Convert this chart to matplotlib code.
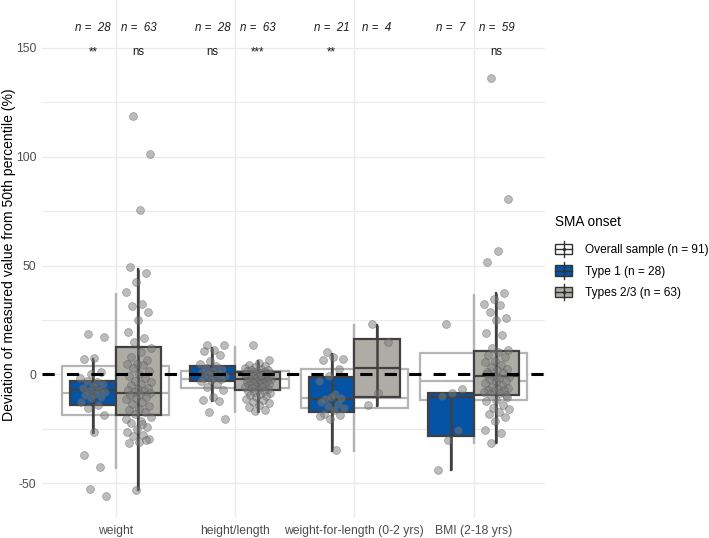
import numpy as np
import matplotlib
matplotlib.use('Agg')
import matplotlib.pyplot as plt
from matplotlib.patches import Rectangle, Patch
from matplotlib.lines import Line2D
from matplotlib.legend_handler import HandlerBase

plt.rcParams['font.family'] = ['Liberation Sans', 'DejaVu Sans']
plt.rcParams['axes.unicode_minus'] = False

# categories and labels
cats = ['weight', 'height/length', 'weight-for-length (0-2 yrs)', 'BMI (2-18 yrs)']
n_t1 = [28, 28, 21, 7]
n_t23 = [63, 63, 4, 59]
sig_t1 = ['**', 'ns', '**', '']
sig_t23 = ['ns', '***', '', 'ns']

# box stats: whislo, q1, median, q3, whishi
overall_stats = [[-43.0, -18.8, -8.7, 4.0, 37.0],
                 [-17.4, -6.4, -2.3, 1.8, 12.4],
                 [-35.3, -15.6, -11.0, 2.3, 22.5],
                 [-31.6, -11.9, -2.8, 10.0, 36.7]]
t1_stats = [[-27.0, -14.2, -7.3, -2.8, 7.3],
            [-12.4, -3.2, 0.0, 3.7, 12.0],
            [-35.3, -17.4, -11.5, -1.4, 9.6],
            [-44.0, -28.4, -10.6, -8.7, -8.7]]
t23_stats = [[-53.0, -18.8, -8.7, 12.4, 48.6],
             [-17.4, -7.0, -2.3, 1.0, 6.0],
             [-14.7, -10.6, 2.8, 16.5, 22.5],
             [-31.6, -9.6, -0.9, 10.6, 37.4]]

# individual points (estimated from the figure)
weight_t1 = [18.7, 17.0, 7.7, 7.3, 1.0, 0.0, -1.5, -3.5, -3.2, -4.5, -5.5, -6.1, -7.0, -7.5,
             -8.0, -9.0, -9.5, -10.5, -11.0, -12.7, -14.0, -15.3, -18.8, -26.5, -37.2, -42.6,
             -52.5, -55.9]
weight_t23 = [118.5, 101.4, 75.7, 49.3, 46.7, 42.4, 37.8, 32.5, 31.4, 28.6, 25.1, 19.7, 16.7, 14.9,
              12.3, 10.5, 8.0, 6.5, 4.9, 4.6, 4.1, 3.0, 1.8, 0.3, -0.5, -1.5, -2.8, -3.5, -4.2,
              -5.0, -6.1, -6.5, -7.0, -7.5, -8.1, -8.5, -8.9, -9.5, -10.4, -11.0, -11.5, -12.5,
              -13.5, -14.5, -15.8, -16.5, -17.2, -18.0,
              -19.6, -21.4, -22.3, -24.2, -25.0, -26.5, -28.0, -28.3, -29.5, -31.1, -31.5, -30.0,
              -53.3, -20.5, -23.0]
height_t1 = [13.6, 13.3, 11.0, 10.7, 8.7, 6.1, 4.9, 4.0, 3.0, 2.5, 1.5, 1.0, 0.5, 0.0, -0.5,
             -1.0, -1.5, -2.0, -2.5, -3.0, -4.6, -6.0, -7.3, -10.4, -11.6, -12.0, -17.3, -20.4]
height_t23 = [13.6, 6.4, 5.2, 4.5, 3.8, 3.5, 3.0, 2.5, 2.2, 2.0, 1.8, 1.5, 1.2, 1.0, 0.8, 0.5,
              0.3, 0.0, 0.0, -0.3, -0.5, -0.8, -1.0, -1.2, -1.5, -1.8, -2.0, -2.2, -2.5, -2.8,
              -3.0, -3.2, -3.5, -3.8, -4.0, -4.2, -4.5, -4.8, -5.0, -5.3, -5.6, -6.0, -6.3, -6.7,
              -7.0, -7.4, -7.8, -8.2, -8.6, -9.0, -9.5, -10.0, -10.4, -11.2, -11.8, -12.5, -13.2,
              -14.2, -15.0, -16.5, -17.0, 0.2, -0.1]
wfl_t1 = [10.4, 6.9, 8.0, 6.8, 2.6, -0.9, -3.1, -9.2, -11.2, -10.7, -10.4, -12.7, -13.8, -14.5,
          -15.3, -16.5, -18.4, -18.8, -20.4, -19.3, -34.9]
wfl_t23 = [23.3, 14.8, -8.6, -14.2]
bmi_t1 = [23.3, -6.5, -8.5, -10.1, -25.7, -30.3, -44.1]
bmi_t23 = [136.0, 80.5, 56.8, 51.5, 37.4, 34.8, 32.2, 31.7, 28.6, 25.9, 24.8, 19.0, 18.2, 12.0,
           11.0, 10.3, 9.0, 8.0, 6.0, 5.7, 4.5, 3.5, 2.6, 2.0, 1.1, 0.5, -0.5, -1.0, -1.7, -2.2,
           -2.8, -3.5, -4.0, -4.8, -5.8, -6.2, -6.6, -7.0, -7.3, -7.8, -8.1, -8.6, -9.0, -9.4,
           -11.6, -12.0, -14.2, -15.3, -15.8, -17.3, -18.4, -19.6, -21.4, -25.4, -27.0, -31.4,
           -10.3, -1.3, 0.0]

pts_t1 = [weight_t1, height_t1, wfl_t1, bmi_t1]
pts_t23 = [weight_t23, height_t23, wfl_t23, bmi_t23]

blue = '#0553A5'
grey = '#AEADA5'
dark = '#404040'
light = '#B5B5B5'


def to_bxp(s):
    return dict(whislo=s[0], q1=s[1], med=s[2], q3=s[3], whishi=s[4], fliers=[])


fig = plt.figure(figsize=(7.09, 5.38), dpi=100)
ax = fig.add_axes([0.059, 0.037, 0.710, 0.963])

pos = np.arange(1, 5)
off = 0.19

# overall sample boxes
ax.bxp([to_bxp(s) for s in overall_stats], positions=pos, widths=0.9, patch_artist=True,
       showfliers=False, showcaps=False,
       boxprops=dict(facecolor='white', edgecolor=light, linewidth=1.6),
       medianprops=dict(color=light, linewidth=1.6),
       whiskerprops=dict(color=light, linewidth=1.6), zorder=1)
ax.vlines(pos, [s[0] for s in overall_stats], [s[4] for s in overall_stats],
          color=light, linewidth=1.6, zorder=1.5)

for stats, shift, fc in [(t1_stats, -off, blue), (t23_stats, off, grey)]:
    ax.bxp([to_bxp(s) for s in stats], positions=pos + shift, widths=0.38, patch_artist=True,
           showfliers=False, showcaps=False,
           boxprops=dict(facecolor=fc, edgecolor=dark, linewidth=1.6),
           medianprops=dict(color=dark, linewidth=1.6),
           whiskerprops=dict(color=dark, linewidth=1.6), zorder=2)
    ax.vlines(pos + shift, [s[0] for s in stats], [s[4] for s in stats],
              color=dark, linewidth=1.8, zorder=2.5)

# jittered points
for i in range(4):
    for vals, shift in [(pts_t1[i], -off), (pts_t23[i], off)]:
        k = np.arange(len(vals))
        jit = ((k * 0.618034 + 0.31) % 1 - 0.5) * 0.22
        ax.scatter(pos[i] + shift + jit, vals, s=32, facecolor='#7A7A7A', edgecolor='#555555',
                   linewidth=0.5, alpha=0.5, zorder=3)

ax.axhline(0, color='black', linewidth=2.2, dashes=(4, 4), zorder=4)

# n and significance labels
for i in range(4):
    ax.text(pos[i] - off, 159, 'n =  %d' % n_t1[i], ha='center', va='center',
            style='italic', fontsize=8.3, color='#1A1A1A')
    ax.text(pos[i] + off, 159, 'n =  %d' % n_t23[i], ha='center', va='center',
            style='italic', fontsize=8.3, color='#1A1A1A')
    ax.text(pos[i] - off, 148, sig_t1[i], ha='center', va='center', fontsize=8.3, color='#1A1A1A')
    ax.text(pos[i] + off, 148, sig_t23[i], ha='center', va='center', fontsize=8.3, color='#1A1A1A')

ax.set_xlim(0.38, 4.6)
ax.set_ylim(-66, 172)
ax.set_xticks(pos)
ax.set_xticklabels(cats)
ax.set_yticks([-50, 0, 50, 100, 150])
ax.set_yticks([-25, 25, 75, 125], minor=True)
ax.tick_params(axis='both', which='both', length=0, labelsize=8.7, labelcolor='#4D4D4D')
ax.tick_params(axis='x', pad=5)
ax.tick_params(axis='y', pad=4)
ax.grid(True, which='major', color='#EBEBEB', linewidth=1.0, zorder=0)
ax.grid(True, which='minor', axis='y', color='#EBEBEB', linewidth=0.8, zorder=0)
ax.set_axisbelow(True)
for sp in ax.spines.values():
    sp.set_visible(False)
fig.text(0.013, 0.526, 'Deviation of measured value from 50th percentile (%)', fontsize=10.1,
         color='black', rotation=90, ha='center', va='center')


class BoxHandler(HandlerBase):
    def __init__(self, face, edge):
        super().__init__()
        self.face = face
        self.edge = edge

    def create_artists(self, legend, orig_handle, xdescent, ydescent, width, height,
                       fontsize, trans):
        x0, y0 = -xdescent, -ydescent
        rect = Rectangle((x0, y0 + 0.15 * height), width, 0.7 * height, facecolor=self.face,
                         edgecolor=self.edge, linewidth=1.0, transform=trans)
        vline = Line2D([x0 + width / 2] * 2, [y0 - 0.05 * height, y0 + 1.05 * height],
                       color=self.edge, linewidth=1.0, transform=trans)
        hline = Line2D([x0, x0 + width], [y0 + height / 2] * 2, color=self.edge,
                       linewidth=1.0, transform=trans)
        dot = Line2D([x0 + width / 2], [y0 + height / 2], marker='o', markersize=1.5,
                     color=self.edge, transform=trans)
        return [rect, vline, hline, dot]


h_all = Patch(label='Overall sample (n = 91)')
h_t1 = Patch(label='Type 1 (n = 28)')
h_t23 = Patch(label='Types 2/3 (n = 63)')
leg = ax.legend(handles=[h_all, h_t1, h_t23], title='SMA onset', loc='upper left',
                bbox_to_anchor=(0.783, 0.600), bbox_transform=fig.transFigure,
                frameon=False, fontsize=8.6, title_fontsize=9.8, handlelength=1.45,
                handleheight=1.55, labelspacing=0.55, handletextpad=1.05, borderpad=0,
                borderaxespad=0,
                handler_map={h_all: BoxHandler('white', '#333333'),
                             h_t1: BoxHandler(blue, '#333333'),
                             h_t23: BoxHandler(grey, '#333333')})
leg._legend_box.align = 'left'
leg._legend_box.sep = 9

fig.savefig('out.png', dpi=100)
